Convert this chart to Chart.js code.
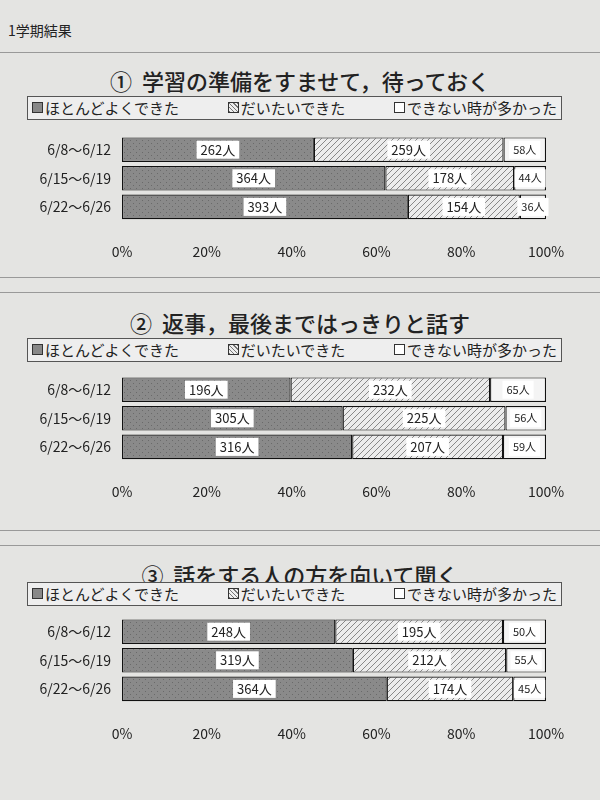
<!DOCTYPE html>
<html><head><meta charset="utf-8">
<script src="https://cdn.jsdelivr.net/npm/chart.js@4"></script>
<style>
body{margin:0;width:600px;height:800px;background:#e4e4e2;font-family:"Noto Sans CJK JP",sans-serif;color:#222;position:relative;overflow:hidden}
.abs{position:absolute}
.t{left:0;width:600px;text-align:center;font-size:22px;font-weight:500}
.leg{border:1px solid #555;background:#eee;font-size:15px;padding:0 4px;height:22px;line-height:22px;white-space:nowrap;width:525px;display:flex;justify-content:space-between}
.sw{display:inline-block;width:9px;height:9px;border:1px solid #333;margin-right:2px;vertical-align:1px}
.line{left:0;width:600px;height:1px;background:#999}
</style></head><body>
<div class="abs" style="left:8px;top:20px;font-size:14px">1学期結果</div>
<div class="abs line" style="top:52px"></div>
<div class="abs line" style="top:277px"></div>
<div class="abs line" style="top:292px"></div>
<div class="abs line" style="top:530px"></div>
<div class="abs line" style="top:545px"></div>

<div class="abs t" style="top:64px">①&nbsp; 学習の準備をすませて，待っておく</div>
<div class="abs leg" style="left:27px;top:96px"><span><span class="sw" style="background:#888"></span>ほとんどよくできた</span><span><span class="sw" style="background:repeating-linear-gradient(45deg,#777 0 1px,#eee 1px 3px)"></span>だいたいできた</span><span><span class="sw" style="background:#fff"></span>できない時が多かった</span></div>
<canvas id="c1" class="abs" style="left:0;top:124px"></canvas>

<div class="abs t" style="top:306px">②&nbsp; 返事，最後まではっきりと話す</div>
<div class="abs leg" style="left:27px;top:338px"><span><span class="sw" style="background:#888"></span>ほとんどよくできた</span><span><span class="sw" style="background:repeating-linear-gradient(45deg,#777 0 1px,#eee 1px 3px)"></span>だいたいできた</span><span><span class="sw" style="background:#fff"></span>できない時が多かった</span></div>
<canvas id="c2" class="abs" style="left:0;top:364px"></canvas>

<div class="abs t" style="top:558px">③&nbsp; 話をする人の方を向いて聞く</div>
<div class="abs leg" style="left:27px;top:582px"><span><span class="sw" style="background:#888"></span>ほとんどよくできた</span><span><span class="sw" style="background:repeating-linear-gradient(45deg,#777 0 1px,#eee 1px 3px)"></span>だいたいできた</span><span><span class="sw" style="background:#fff"></span>できない時が多かった</span></div>
<canvas id="c3" class="abs" style="left:0;top:606px"></canvas>

<script>
const weeks = ["6/8～6/12", "6/15～6/19", "6/22～6/26"];
const seriesNames = ["ほとんどよくできた", "だいたいできた", "できない時が多かった"];
// counts per chart: [good, mostly, often not]
const q1Good = [262, 364, 393], q1Mid = [259, 178, 154], q1Bad = [58, 44, 36];
const q2Good = [196, 305, 316], q2Mid = [232, 225, 207], q2Bad = [65, 56, 59];
const q3Good = [248, 319, 364], q3Mid = [195, 212, 174], q3Bad = [50, 55, 45];
const ticks = ["0%", "20%", "40%", "60%", "80%", "100%"];

function pattern(kind) {
  const p = document.createElement("canvas");
  p.width = p.height = 6;
  const g = p.getContext("2d");
  if (kind === "dots") {
    g.fillStyle = "#8a8a8a"; g.fillRect(0, 0, 6, 6);
    g.fillStyle = "#6a6a6a"; g.fillRect(1, 1, 1, 1); g.fillRect(4, 4, 1, 1);
  } else {
    g.fillStyle = "#ececec"; g.fillRect(0, 0, 6, 6);
    g.strokeStyle = "#888"; g.lineWidth = 1;
    g.beginPath(); g.moveTo(0, 6); g.lineTo(6, 0); g.moveTo(-1, 1); g.lineTo(1, -1); g.moveTo(5, 7); g.lineTo(7, 5); g.stroke();
  }
  return g.createPattern(p, "repeat");
}

const labelPlugin = {
  id: "boxLabels",
  afterDatasetsDraw(chart) {
    const ctx = chart.ctx;
    chart.data.datasets.forEach((ds, di) => {
      chart.getDatasetMeta(di).data.forEach((bar, i) => {
        const txt = ds.counts[i] + "人";
        ctx.font = (di === 2 ? "11px" : "13px") + ' "Noto Sans CJK JP"';
        const w = ctx.measureText(txt).width + 8;
        const x = (bar.x + bar.base) / 2;
        ctx.fillStyle = "#fff";
        ctx.fillRect(x - w / 2, bar.y - 9, w, 18);
        ctx.fillStyle = "#222";
        ctx.textAlign = "center"; ctx.textBaseline = "middle";
        ctx.fillText(txt, x, bar.y);
      });
    });
  }
};

function makeChart(id, good, mid, bad) {
  const el = document.getElementById(id);
  el.width = 580; el.height = 150;
  const parts = [good, mid, bad];
  const fills = [pattern("dots"), pattern("hatch"), "#f4f4f4"];
  new Chart(el, {
    type: "bar",
    data: {
      labels: weeks,
      datasets: parts.map((arr, k) => ({
        label: seriesNames[k],
        counts: arr,
        data: arr.map((v, i) => v / (good[i] + mid[i] + bad[i]) * 100),
        backgroundColor: fills[k],
        borderColor: "#111", borderWidth: 1.2, borderSkipped: false,
        barPercentage: 0.86, categoryPercentage: 1
      }))
    },
    options: {
      indexAxis: "y", responsive: false, animation: false,
      layout: { padding: { right: 34, top: 2 } },
      plugins: { legend: { display: false }, tooltip: { enabled: false } },
      scales: {
        x: { stacked: true, min: 0, max: 100, grid: { display: false }, border: { display: false },
          ticks: { stepSize: 20, padding: 14, color: "#222", font: { size: 14, family: "Noto Sans CJK JP" },
            callback: (v) => ticks[v / 20] } },
        y: { stacked: true, grid: { display: false }, border: { display: false },
          afterFit: (s) => { s.width = 122; },
          ticks: { color: "#222", font: { size: 14, family: "Noto Sans CJK JP" } } }
      }
    },
    plugins: [labelPlugin]
  });
}
makeChart("c1", q1Good, q1Mid, q1Bad);
makeChart("c2", q2Good, q2Mid, q2Bad);
makeChart("c3", q3Good, q3Mid, q3Bad);
</script>
</body></html>
